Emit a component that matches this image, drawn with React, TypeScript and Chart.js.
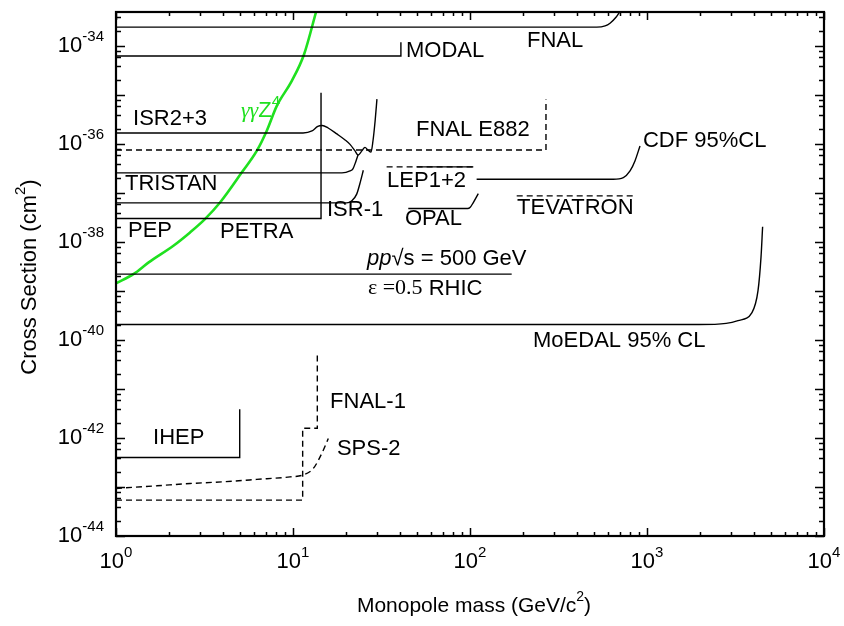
import React, { useEffect, useRef } from 'react';
import { Chart, registerables } from 'chart.js';

Chart.register(...registerables);

const SANS = '"Liberation Sans", Arial, sans-serif';
const SERIF = '"Liberation Serif", "Times New Roman", serif';
const GREEN = '#1fe01f';

// ---- data: [mass (GeV/c^2), cross section (cm^2)] ----
const fnalData = [[1, 2.45e-34], [520, 2.45e-34], [580, 2.6e-34], [618, 2.95e-34], [668, 3.9e-34], [700, 5e-34]];
const modalData = [[1, 6.3e-35], [40.7, 6.3e-35], [40.7, 1.2e-34]];
const isr23Data = [[1, 1.69e-36], [11.4, 1.69e-36], [12.8, 1.86e-36], [13.8, 2.3e-36], [14.6, 2.4e-36], [15.8, 2.14e-36], [17.7, 1.62e-36], [19.7, 1.22e-36], [21.0, 9.9e-37], [22.4, 7.3e-37], [23.3, 6.0e-37], [24.5, 7.3e-37], [25.5, 8.6e-37], [26.5, 7.6e-37], [27.6, 6.9e-37], [28.3, 1.16e-36], [29.1, 2.97e-36], [29.8, 8.3e-36]];
const tristanData = [[1, 2.59e-37], [18.9, 2.59e-37], [21.0, 2.84e-37], [21.8, 3.13e-37], [22.7, 4.55e-37], [23.3, 6.0e-37]];
const isr1Data = [[1, 6.34e-38], [20.1, 6.34e-38], [21.5, 6.97e-38], [22.9, 9.55e-38], [24.1, 1.78e-37], [24.96, 2.94e-37]];
const petraData = [[1, 3.04e-38], [14.4, 3.04e-38], [14.4, 1.12e-35]];
const e882Data = [[1, 7.62e-37], [268.7, 7.62e-37], [268.7, 8.2e-36]];
const lepDashData = [[33.8, 3.44e-37], [104.4, 3.44e-37]];
const lepSolidData = [[50, 3.44e-37], [104.4, 3.44e-37]];
const opalData = [[44.8, 4.85e-38], [97.0, 4.85e-38], [100, 5.09e-38], [104.4, 6.44e-38], [111.4, 9.8e-38]];
const cdfData = [[109, 1.93e-37], [645, 1.93e-37], [735, 2.08e-37], [802, 2.84e-37], [855, 4.55e-37], [913, 9.2e-37]];
const tevatronData = [[183.6, 8.8e-38], [855, 8.8e-38]];
const rhicData = [[1, 2.22e-39], [172, 2.22e-39]];
const moedalData = [[1, 2.08e-40], [1967, 2.08e-40], [2800, 2.2e-40], [3266, 2.5e-40], [3918, 3.65e-40], [4238, 1.02e-39], [4406, 4.88e-39], [4500, 2.06e-38]];
const ihepData = [[1, 4.0e-43], [5.0, 4.0e-43], [5.0, 3.86e-42]];
const fnal1Data = [[1, 5.41e-44], [11.34, 5.41e-44], [11.34, 1.58e-42], [13.72, 1.58e-42], [13.72, 4.85e-41]];
const sps2Data = [[1, 9.35e-44], [1.7, 1.06e-43], [2.62, 1.18e-43], [4.04, 1.28e-43], [6.24, 1.43e-43], [9.62, 1.61e-43], [11.34, 1.75e-43], [13.02, 2.39e-43], [14.83, 5.64e-43], [15.83, 9.77e-43]];
const gammaData = [[1.0, 1.44e-39], [1.26, 2.24e-39], [1.53, 3.86e-39], [2.11, 8.45e-39], [2.62, 1.58e-38], [3.18, 2.95e-38], [3.87, 6.44e-38], [5.13, 2.63e-37], [6.24, 7.28e-37], [7.1, 1.86e-36], [8.09, 6.0e-36], [9.83, 1.94e-35], [11.54, 6.78e-35], [13.5, 5e-34]];

// axis ranges and tick labels
const xRange = [1, 1e4];
const yRange = [1e-44, 5e-34];
const xTickExps = [0, 1, 2, 3, 4];
const yTickExps = [-44, -42, -40, -38, -36, -34];
const xMinorMult = [2, 3, 4, 5, 6, 7, 8, 9];
const yMinorMult = [2, 4, 6, 8];

type Part = { t: string; family?: string; style?: string; sup?: boolean };
type Label = { x: number; y: number; parts: Part[]; color?: string };

// annotation labels (left edge, vertical middle) in data coordinates
const labels: Label[] = [
  { x: 210, y: 1.3e-34, parts: [{ t: 'FNAL' }] },
  { x: 43.5, y: 8.1e-35, parts: [{ t: 'MODAL' }] },
  { x: 1.248, y: 3.26e-36, parts: [{ t: 'ISR2+3' }] },
  { x: 5.08, y: 4.74e-36, parts: [{ t: 'γγ', family: SERIF, style: 'italic' }, { t: 'Z' }, { t: '4', sup: true }], color: GREEN },
  { x: 49.5, y: 1.95e-36, parts: [{ t: 'FNAL E882' }] },
  { x: 1.124, y: 1.55e-37, parts: [{ t: 'TRISTAN' }] },
  { x: 34.0, y: 1.78e-37, parts: [{ t: 'LEP1+2' }] },
  { x: 949, y: 1.16e-36, parts: [{ t: 'CDF 95%CL' }] },
  { x: 15.56, y: 4.57e-38, parts: [{ t: 'ISR-1' }] },
  { x: 42.9, y: 3.0e-38, parts: [{ t: 'OPAL' }] },
  { x: 184.4, y: 4.9e-38, parts: [{ t: 'TEVATRON' }] },
  { x: 1.169, y: 1.71e-38, parts: [{ t: 'PEP' }] },
  { x: 3.87, y: 1.58e-38, parts: [{ t: 'PETRA' }] },
  { x: 26.2, y: 4.59e-39, parts: [{ t: 'pp', style: 'italic' }, { t: '√s = 500 GeV' }] },
  { x: 26.5, y: 1.12e-39, parts: [{ t: 'ε =0.5', family: SERIF }, { t: ' RHIC' }] },
  { x: 227, y: 9.8e-41, parts: [{ t: 'MoEDAL 95% CL' }] },
  { x: 16.2, y: 5.36e-42, parts: [{ t: 'FNAL-1' }] },
  { x: 17.7, y: 5.9e-43, parts: [{ t: 'SPS-2' }] },
  { x: 1.62, y: 9.9e-43, parts: [{ t: 'IHEP' }] },
];

const FONT_SIZE = 22;

function drawRich(ctx: CanvasRenderingContext2D, x: number, y: number, parts: Part[], size: number, align: 'left' | 'center' | 'right') {
  let w = 0;
  const items = parts.map((p) => {
    const s = p.sup ? Math.round(size * 0.66) : size;
    const font = `${p.style || ''} ${s}px ${p.family || SANS}`;
    ctx.font = font;
    const mw = ctx.measureText(p.t).width;
    w += mw;
    return { p, font, mw };
  });
  let cx = align === 'center' ? x - w / 2 : align === 'right' ? x - w : x;
  ctx.textAlign = 'left';
  ctx.textBaseline = 'middle';
  for (const it of items) {
    ctx.font = it.font;
    ctx.fillText(it.p.t, cx, y + (it.p.sup ? -size * 0.42 : 0));
    cx += it.mw;
  }
}

const framePlugin = {
  id: 'frameAndText',
  afterDraw(chart: any) {
    const { ctx, chartArea: a, scales } = chart;
    const xs = scales.x;
    const ys = scales.y;
    ctx.save();
    ctx.strokeStyle = '#000';
    ctx.fillStyle = '#000';
    // ticks
    ctx.lineWidth = 1.5;
    const tickX = (v: number, len: number) => {
      const px = Math.round(xs.getPixelForValue(v)) + 0.5;
      ctx.beginPath();
      ctx.moveTo(px, a.bottom);
      ctx.lineTo(px, a.bottom - len);
      ctx.moveTo(px, a.top);
      ctx.lineTo(px, a.top + len);
      ctx.stroke();
    };
    const tickY = (v: number, len: number) => {
      const py = Math.round(ys.getPixelForValue(v)) + 0.5;
      ctx.beginPath();
      ctx.moveTo(a.left, py);
      ctx.lineTo(a.left + len, py);
      ctx.moveTo(a.right, py);
      ctx.lineTo(a.right - len, py);
      ctx.stroke();
    };
    for (let d = 0; d <= 4; d++) {
      tickX(Math.pow(10, d), 8);
      if (d < 4) for (const k of xMinorMult) tickX(k * Math.pow(10, d), 4);
    }
    for (let e = -44; e <= -34; e++) {
      tickY(Math.pow(10, e), 9);
      for (const k of yMinorMult) {
        const v = k * Math.pow(10, e);
        if (v <= yRange[1]) tickY(v, 5);
      }
    }
    // frame
    ctx.lineWidth = 2.2;
    ctx.strokeRect(a.left, a.top, a.right - a.left, a.bottom - a.top);

    // tick labels
    for (const e of xTickExps) {
      const px = xs.getPixelForValue(Math.pow(10, e));
      drawRich(ctx, px, a.bottom + 26, [{ t: '10' }, { t: String(e), sup: true }], FONT_SIZE, 'center');
    }
    for (const e of yTickExps) {
      const py = ys.getPixelForValue(Math.pow(10, e));
      drawRich(ctx, a.left - 12, py, [{ t: '10' }, { t: String(e), sup: true }], FONT_SIZE, 'right');
    }
    // axis titles
    drawRich(ctx, (a.left + a.right) / 2 + 4, 606, [{ t: 'Monopole mass (GeV/c' }, { t: '2', sup: true }, { t: ')' }], 21, 'center');
    ctx.save();
    ctx.translate(30, (a.top + a.bottom) / 2 + 3);
    ctx.rotate(-Math.PI / 2);
    drawRich(ctx, 0, 0, [{ t: 'Cross Section (cm' }, { t: '2', sup: true }, { t: ')' }], 22, 'center');
    ctx.restore();

    // annotations
    for (const l of labels) {
      ctx.fillStyle = l.color || '#000';
      drawRich(ctx, xs.getPixelForValue(l.x), ys.getPixelForValue(l.y), l.parts, FONT_SIZE, 'left');
    }
    ctx.restore();
  },
};

const toPts = (arr: number[][]) => arr.map(([x, y]) => ({ x, y }));

const line = (label: string, data: number[][], opts: any = {}) => ({
  label,
  data: toPts(data),
  showLine: true,
  borderColor: '#000',
  backgroundColor: '#000',
  borderWidth: 1.4,
  pointRadius: 0,
  pointHoverRadius: 0,
  fill: false,
  tension: 0,
  ...opts,
});

const DASH = [6, 4];
const CURVE = { cubicInterpolationMode: 'monotone' };

export default function App() {
  const ref = useRef<HTMLCanvasElement | null>(null);
  useEffect(() => {
    document.body.style.margin = '0';
    if (!ref.current) return;
    const chart = new Chart(ref.current, {
      type: 'scatter',
      data: {
        datasets: [
          line('FNAL', fnalData, CURVE),
          line('MODAL', modalData),
          line('ISR2+3', isr23Data, CURVE),
          line('TRISTAN', tristanData, CURVE),
          line('ISR-1', isr1Data, CURVE),
          line('PETRA', petraData),
          line('FNAL E882', e882Data, { borderDash: DASH }),
          line('LEP1+2 (dashed)', lepDashData, { borderDash: DASH }),
          line('LEP1+2', lepSolidData),
          line('OPAL', opalData, CURVE),
          line('CDF 95%CL', cdfData, CURVE),
          line('TEVATRON', tevatronData, { borderDash: DASH }),
          line('RHIC', rhicData),
          line('MoEDAL 95% CL', moedalData, CURVE),
          line('IHEP', ihepData),
          line('FNAL-1', fnal1Data, { borderDash: DASH }),
          line('SPS-2', sps2Data, { borderDash: DASH, ...CURVE }),
          line('γγZ4', gammaData, { borderColor: GREEN, backgroundColor: GREEN, borderWidth: 2.6, ...CURVE }),
        ],
      },
      options: {
        animation: false,
        responsive: false,
        maintainAspectRatio: false,
        layout: { padding: { left: 0, right: 20, top: 12, bottom: 0 } },
        plugins: { legend: { display: false }, tooltip: { enabled: false } },
        scales: {
          x: {
            type: 'logarithmic',
            min: xRange[0],
            max: xRange[1],
            ticks: { display: false },
            grid: { display: false },
            border: { display: false },
            afterFit: (s: any) => { s.height = 90; },
          },
          y: {
            type: 'logarithmic',
            min: yRange[0],
            max: yRange[1],
            ticks: { display: false },
            grid: { display: false },
            border: { display: false },
            afterFit: (s: any) => { s.width = 116; },
          },
        },
      },
      plugins: [framePlugin],
    } as any);
    return () => chart.destroy();
  }, []);
  return (
    <div style={{ position: 'absolute', left: 0, top: 0, width: 844, height: 626, background: '#fff' }}>
      <canvas ref={ref} width={844} height={626} />
    </div>
  );
}
